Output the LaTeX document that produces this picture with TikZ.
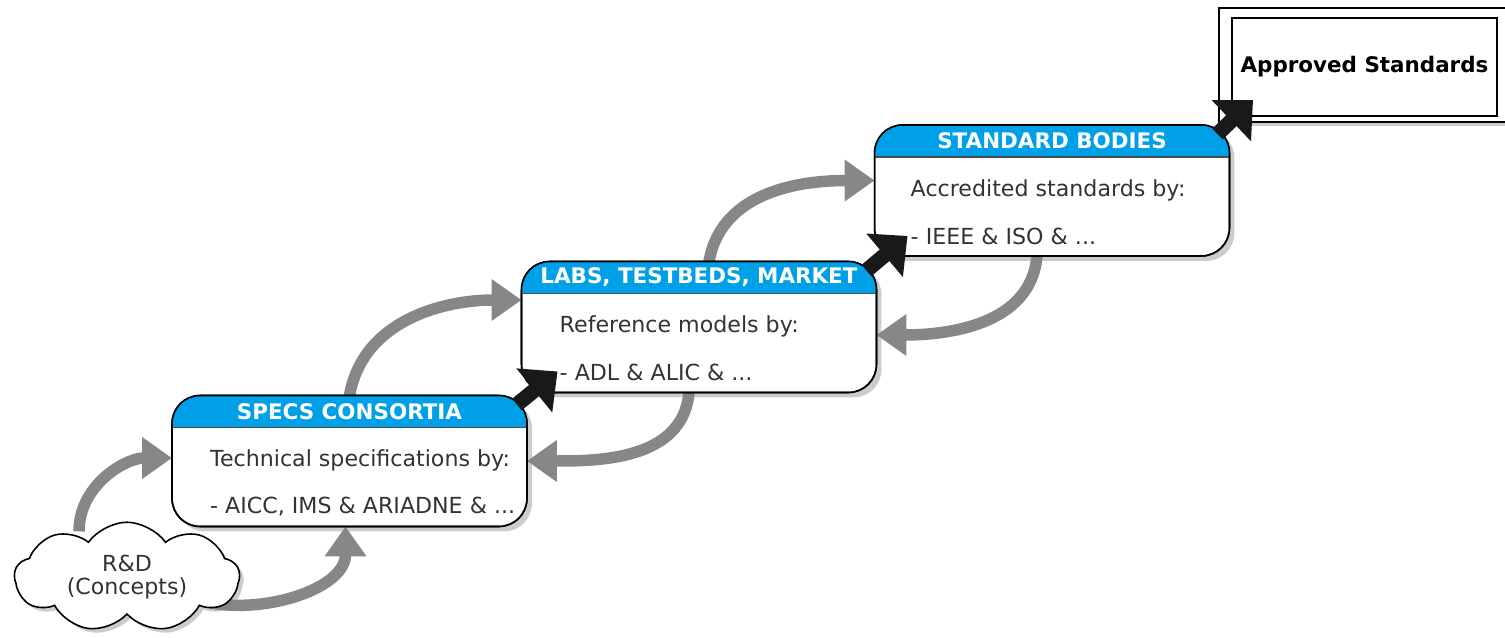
\documentclass[tikz,border=0pt]{standalone}
\usepackage{fontspec}
\setmainfont{DejaVu Sans}
\usetikzlibrary{arrows.meta, positioning, shapes.symbols, shadows, backgrounds}
\definecolor{headblue}{RGB}{0,160,233}
\definecolor{bodygray}{RGB}{51,51,51}
\definecolor{loopgray}{RGB}{135,135,135}

\begin{document}
\begin{tikzpicture}[x=0.02cm, y=-0.02cm,
			stage/.style={rectangle, draw, line width=0.9pt, rounded corners=0.56cm, fill=white,
					outer sep=0pt, minimum width=7.1cm, minimum height=2.62cm,
					drop shadow={shadow xshift=0.1cm, shadow yshift=-0.1cm, opacity=0.4}},
			headtxt/.style={text=white, font=\bfseries\fontsize{12.2}{14}\selectfont},
			bodytxt/.style={anchor=west, text=bodygray, font=\fontsize{12.6}{15}\selectfont},
			idea/.style={cloud, cloud puffs=9, cloud puff arc=110, aspect=2.3, draw, line width=0.9pt,
					fill=white, align=center, minimum width=4.5cm, minimum height=1.95cm, text=bodygray,
					font=\fontsize{12.6}{13}\selectfont,
					drop shadow={shadow xshift=0.08cm, shadow yshift=-0.08cm, opacity=0.4}},
			outcome/.style={rectangle, draw, line width=0.9pt, fill=white, outer sep=0pt},
			advance/.style={line width=0.3cm, black!90, -{Triangle[length=0.6cm, width=1.1cm]}},
			feedback/.style={line width=0.23cm, loopgray, -{Triangle[length=0.6cm, width=0.8cm]}},
		]
		\useasboundingbox (0,0) rectangle (1505,638);

		% --- Nodi ---
		\node (cloud) [idea] at (127,577) {R\&D\\(Concepts)};
		\node (appr)  [outcome, minimum width=6.04cm, minimum height=2.28cm,
			drop shadow={shadow xshift=0.08cm, shadow yshift=-0.08cm, opacity=0.4}] at (1370,65) {};
		\node (apprin) [outcome, minimum width=5.3cm, minimum height=1.96cm,
			font=\bfseries\fontsize{12.2}{14}\selectfont] at (1364.5,67) {Approved Standards};

		\node (stdb)  [stage] at (1052,190.5) {};
		\node (labs)  [stage] at (699,327) {};
		\node (specs) [stage] at (349.5,461) {};

		% --- Intestazioni blu ---
		\foreach \b in {specs, labs, stdb} {
			\begin{scope}
				\clip[rounded corners=0.56cm] (\b.south west) rectangle (\b.north east);
				\fill[headblue] (\b.north west) rectangle ([yshift=-0.64cm]\b.north east);
			\end{scope}
			\draw[line width=0.7pt, black!70] ([yshift=-0.64cm]\b.north west) -- ([yshift=-0.64cm]\b.north east);
			\draw[line width=0.9pt, rounded corners=0.56cm] (\b.south west) rectangle (\b.north east);
		}

		% --- Testi ---
		\node [headtxt] at ([yshift=-0.32cm]specs.north) {SPECS CONSORTIA};
		\node [bodytxt] at ([shift={(0.64cm,-1.3cm)}]specs.north west) {Technical specifications by:};
		\node [bodytxt] at ([shift={(0.64cm,-2.22cm)}]specs.north west) {- AICC, IMS \& ARIADNE \& ...};

		\node [headtxt] at ([yshift=-0.32cm]labs.north) {LABS, TESTBEDS, MARKET};
		\node [bodytxt] at ([shift={(0.64cm,-1.3cm)}]labs.north west) {Reference models by:};
		\node [bodytxt] at ([shift={(0.64cm,-2.22cm)}]labs.north west) {- ADL \& ALIC \& ...};

		\node [headtxt] at ([yshift=-0.32cm]stdb.north) {STANDARD BODIES};
		\node [bodytxt] at ([shift={(0.6cm,-1.3cm)}]stdb.north west) {Accredited standards by:};
		\node [bodytxt] at ([shift={(0.6cm,-2.22cm)}]stdb.north west) {- IEEE \& ISO \& ...};

		% --- Frecce grigie (andata e ritorno) ---
		\begin{scope}[on background layer]
			\draw [feedback] ([shift={(-48,10)}]cloud.north) to[out=90, in=180] ([shift={(0,-3)}]specs.west);
			\draw [feedback] ([shift={(-30,26)}]cloud.east) to[out=-10, in=-90] ([shift={(-4,0)}]specs.south);
			\draw [feedback] (specs.north) to[out=80, in=180] ([shift={(0,-27)}]labs.west);
			\draw [feedback] ([shift={(-10,0)}]labs.south) to[out=-95, in=0] (specs.east);
			\draw [feedback] ([shift={(10,0)}]labs.north) to[out=80, in=180] ([shift={(0,-10)}]stdb.west);
			\draw [feedback] ([shift={(-15,0)}]stdb.south) to[out=-95, in=0] ([shift={(0,8)}]labs.east);
		\end{scope}

		% --- Frecce nere: avanzamento ---
		\draw [advance] ([shift={(-10,9)}]specs.north east) -- ([shift={(36,-21)}]labs.south west);
		\draw [advance] ([shift={(-10,9)}]labs.north east) -- ([shift={(33,-20)}]stdb.south west);
		\draw [advance] ([shift={(-12,9)}]stdb.north east) -- ([shift={(34,-22)}]appr.south west);

	\end{tikzpicture}
\end{document}
